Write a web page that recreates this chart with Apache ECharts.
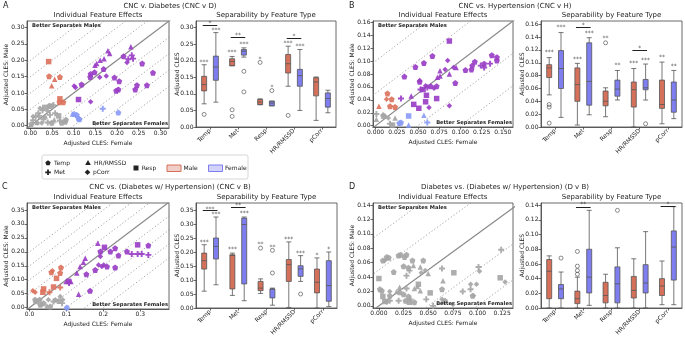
<!DOCTYPE html>
<html>
<head>
<meta charset="utf-8">
<script src="https://cdn.jsdelivr.net/npm/echarts@6/dist/echarts.min.js"></script>
<style>
  html, body { margin: 0; padding: 0; background: #fff; }
  #chart { width: 685px; height: 339px; }
</style>
</head>
<body>
<div id="chart"></div>
<script>
const features = ['Temp', 'Met', 'Resp', 'HR/RMSSD', 'pCorr'];

// scatter points: [CLES female, CLES male, group]  p = both sig, r = male only, b = female only, g = n.s.
const aTemp = [[0.215,0.212,'p'],[0.169,0.173,'p'],[0.148,0.163,'p'],[0.139,0.158,'p'],[0.118,0.126,'p'],[0.194,0.147,'p'],[0.205,0.136,'p'],[0.203,0.111,'p'],[0.198,0.107,'p'],[0.258,0.190,'p'],[0.246,0.124,'p'],[0.269,0.124,'p'],[0.242,0.111,'p'],[0.283,0.162,'p'],[0.138,0.149,'p'],
  [0.043,0.151,'r'],[0.068,0.149,'r'],[0.067,0.072,'r'],[0.076,0.072,'r'],
  [0.101,0.036,'b'],[0.107,0.033,'b'],[0.111,0.022,'b'],[0.113,0.020,'b'],[0.203,0.040,'b'],
  [0.002,0.005,'g'],[0.043,0.060,'g'],[0.049,0.009,'g'],[0.072,0.009,'g'],[0.080,0.012,'g'],[0.082,0.018,'g']];
const aMet = [[0.234,0.215,'p'],[0.237,0.205,'p'],[0.226,0.203,'p'],[0.167,0.052,'b'],
  [0.006,0.017,'g'],[0.012,0.027,'g'],[0.018,0.038,'g'],[0.028,0.047,'g'],[0.053,0.063,'g'],[0.045,0.033,'g'],[0.057,0.038,'g'],[0.068,0.016,'g'],[0.030,0.020,'g'],[0.040,0.010,'g'],[0.020,0.030,'g']];
const aResp = [[0.111,0.080,'p'],[0.042,0.196,'r'],[0.068,0.082,'r'],[0.033,0.056,'g'],[0.048,0.060,'g'],[0.065,0.030,'g']];
const aHR = [[0.232,0.241,'p'],[0.179,0.229,'p'],[0.183,0.221,'p'],[0.170,0.205,'p'],[0.161,0.200,'p'],[0.149,0.185,'p'],[0.153,0.190,'p'],
  [0.056,0.142,'r'],[0.049,0.122,'r'],[0.097,0.036,'b'],[0.034,0.030,'g'],[0.055,0.018,'g'],[0.015,0.010,'g']];
const aPcorr = [[0.223,0.193,'p'],[0.101,0.121,'p'],[0.104,0.117,'p'],[0.139,0.073,'p'],[0.160,0.148,'p'],[0.175,0.152,'p'],
  [0.022,0.053,'g'],[0.016,0.009,'g'],[0.026,0.008,'g'],[0.006,0.028,'g'],[0.040,0.045,'g']];

const bTemp = [[0.014,0.050,'r'],[0.019,0.041,'r'],[0.017,0.030,'r'],[0.023,0.029,'r'],[0.028,0.004,'b'],[0.030,0.005,'b'],
  [0.057,0.097,'p'],[0.067,0.108,'p'],[0.047,0.091,'p'],[0.034,0.076,'p'],[0.117,0.099,'p'],[0.114,0.093,'p'],[0.113,0.087,'p'],[0.128,0.096,'p'],[0.143,0.101,'p'],[0.143,0.106,'p'],[0.137,0.109,'p'],[0.106,0.086,'p'],[0.094,0.066,'p'],[0.065,0.061,'p'],[0.072,0.061,'p'],[0.052,0.068,'p'],
  [0.009,0.015,'g']];
const bMet = [[0.124,0.093,'p'],[0.128,0.090,'p'],[0.135,0.096,'p'],[0.053,0.056,'p'],[0.061,0.059,'p'],[0.030,0.042,'p'],[0.061,0.005,'b'],[0.001,0.018,'g'],[0.017,0.003,'g']];
const bResp = [[0.087,0.131,'p'],[0.060,0.047,'p'],[0.072,0.042,'p'],[0.059,0.037,'p'],[0.045,0.033,'p'],[0.051,0.027,'p'],[0.056,0.056,'p'],[0.039,0.015,'b'],[0.020,0.001,'g']];
const bHR = [[0.004,0.030,'r'],[0.076,0.085,'p'],[0.076,0.077,'p'],[0.073,0.075,'p'],[0.087,0.080,'p'],[0.095,0.090,'p'],[0.042,0.046,'p'],[0.057,0.016,'b'],[0.039,0.001,'b'],[0.001,0.010,'g'],[0.023,0.012,'g']];
const bPcorr = [[0.013,0.041,'r'],[0.085,0.101,'p'],[0.092,0.090,'p'],[0.082,0.087,'p'],[0.052,0.070,'p'],[0.059,0.062,'p'],[0.063,0.028,'p'],[0.087,0.031,'p'],[0.069,0.058,'p'],[0.011,0.015,'g'],[0.015,0.012,'g'],[0.009,0.017,'g']];

const cTemp = [[0.059,0.127,'r'],[0.085,0.144,'r'],[0.083,0.124,'r'],[0.015,0.028,'g'],[0.027,0.028,'g'],[0.029,0.010,'g'],[0.038,0.016,'g'],[0.079,0.024,'g'],[0.056,0.004,'g'],[0.101,0.000,'b'],
  [0.192,0.201,'p'],[0.232,0.213,'p'],[0.241,0.187,'p'],[0.219,0.201,'p'],[0.178,0.135,'p'],[0.210,0.147,'p'],[0.232,0.144,'p'],[0.154,0.120,'p'],[0.164,0.060,'p'],[0.264,0.201,'p'],[0.322,0.223,'p']];
const cMet = [[0.277,0.192,'p'],[0.293,0.192,'p'],[0.304,0.192,'p'],[0.322,0.189,'p'],[0.107,0.088,'p'],[0.083,0.072,'r'],[0.054,0.055,'r'],[0.065,0.022,'g'],[0.088,0.016,'g']];
const cResp = [[0.073,0.105,'r'],[0.038,0.067,'r'],[0.036,0.055,'r'],[0.065,0.074,'r'],[0.203,0.216,'p'],[0.293,0.225,'p'],[0.106,0.094,'p'],[0.018,0.022,'g']];
const cHR = [[0.185,0.231,'p'],[0.151,0.177,'p'],[0.146,0.163,'p'],[0.137,0.147,'p'],[0.128,0.124,'p'],[0.099,0.094,'p'],[0.133,0.048,'p'],[0.112,0.094,'p'],[0.047,0.007,'g']];
const cPcorr = [[0.009,0.060,'r'],[0.015,0.055,'r'],[0.062,0.132,'r'],[0.192,0.183,'p'],[0.196,0.147,'p'],[0.187,0.153,'p'],[0.201,0.153,'p'],
  [0.051,0.028,'g'],[0.083,0.040,'g'],[0.090,0.028,'g'],[0.033,0.010,'g'],[0.070,0.028,'g']];

const dTemp = [[0.004,0.063,'g'],[0.008,0.068,'g'],[0.010,0.067,'g'],[0.020,0.070,'g'],[0.022,0.071,'g'],[0.026,0.068,'g'],[0.028,0.071,'g'],[0.034,0.063,'g'],[0.045,0.063,'g'],[0.025,0.055,'g'],[0.030,0.053,'g'],[0.015,0.047,'g'],
  [0.001,0.023,'g'],[0.021,0.019,'g'],[0.025,0.016,'g'],[0.030,0.013,'g'],[0.027,0.007,'g'],[0.036,0.005,'g'],[0.064,0.023,'g'],[0.067,0.007,'g'],[0.095,0.014,'g'],[0.011,0.014,'g'],[0.003,0.021,'g']];
const dMet = [[0.028,0.042,'g'],[0.031,0.049,'g'],[0.028,0.024,'g'],[0.020,0.007,'g'],[0.011,0.007,'g'],[0.032,0.009,'g'],[0.048,0.009,'g'],[0.064,0.052,'g'],[0.085,0.020,'g'],[0.093,0.023,'g'],[0.101,0.054,'g'],[0.124,0.078,'g'],[0.055,0.000,'g']];
const dResp = [[0.000,0.038,'g'],[0.006,0.006,'g'],[0.004,0.013,'g'],[0.031,0.005,'g'],[0.052,0.018,'g'],[0.040,0.030,'g'],[0.076,0.046,'g'],[0.123,0.039,'g']];
const dHR = [[0.035,0.056,'g'],[0.042,0.054,'g'],[0.050,0.045,'g'],[0.018,0.020,'g'],[0.021,0.026,'g'],[0.036,0.024,'g'],[0.039,0.027,'g'],[0.042,0.021,'g'],[0.065,0.035,'g']];
const dPcorr = [[0.047,0.049,'g'],[0.043,0.046,'g'],[0.011,0.020,'g'],[0.008,0.005,'g'],[0.064,0.009,'g'],[0.065,0.005,'g'],[0.075,0.002,'g'],[0.093,0.030,'g'],[0.099,0.030,'g'],[0.102,0.048,'g'],[0.096,0.014,'g'],[0.128,0.033,'g'],[0.006,0.063,'g']];

// box plots: [min, Q1, median, Q3, max] per feature
const aBoxMale = [[0.070,0.109,0.128,0.153,0.188],[0.185,0.185,0.198,0.206,0.213],[0.067,0.068,0.0755,0.083,0.085],[0.123,0.163,0.191,0.219,0.244],[0.020,0.094,0.136,0.149,0.151]];
const aBoxFemale = [[0.075,0.141,0.181,0.214,0.285],[0.211,0.217,0.229,0.234,0.239],[0.064,0.064,0.072,0.078,0.078],[0.050,0.123,0.155,0.174,0.234],[0.043,0.060,0.086,0.103,0.111]];
const bBoxMale = [[0.050,0.077,0.092,0.097,0.108],[0.003,0.040,0.066,0.092,0.099],[0.016,0.033,0.040,0.056,0.061],[0.000,0.031,0.058,0.070,0.091],[0.005,0.029,0.035,0.073,0.101]];
const bBoxFemale = [[0.015,0.060,0.091,0.119,0.147],[0.019,0.034,0.071,0.131,0.139],[0.042,0.048,0.059,0.073,0.088],[0.042,0.058,0.061,0.074,0.098],[0.013,0.023,0.042,0.070,0.088]];
const cBoxMale = [[0.060,0.139,0.169,0.196,0.226],[0.045,0.068,0.188,0.190,0.196],[0.052,0.062,0.071,0.095,0.104],[0.002,0.095,0.155,0.173,0.236],[0.000,0.054,0.092,0.139,0.179]];
const cBoxFemale = [[0.083,0.175,0.220,0.250,0.325],[0.026,0.086,0.298,0.321,0.325],[0.010,0.036,0.068,0.068,0.071],[0.095,0.113,0.140,0.151,0.187],[0.005,0.024,0.080,0.169,0.200]];
const dBoxMale = [[0.000,0.0127,0.050,0.066,0.071],[0.000,0.006,0.0127,0.023,0.042],[0.000,0.007,0.017,0.035,0.046],[0.000,0.0136,0.024,0.043,0.067],[0.0045,0.017,0.030,0.040,0.064]];
const dBoxFemale = [[0.000,0.0127,0.026,0.032,0.049],[0.0036,0.0205,0.042,0.080,0.133],[0.000,0.007,0.033,0.056,0.082],[0.000,0.0205,0.034,0.059,0.104],[0.0045,0.038,0.083,0.105,0.138]];

// outliers: [feature index, side (-1 male / 1 female), value]
const aOutliers = [[0,-1,0.038],[1,-1,0.052],[1,-1,0.032],[1,1,0.168],[1,1,0.106],[2,-1,0.195],[2,1,0.110],[3,-1,0.035]];
const bOutliers = [[0,-1,0.035],[0,-1,0.031],[0,-1,0.006],[2,-1,0.131],[3,1,0.005]];
const cOutliers = [[2,-1,0.214],[2,1,0.206],[2,1,0.125],[3,1,0.050]];
const dOutliers = [[0,1,0.068],[1,-1,0.077],[1,-1,0.057],[1,-1,0.051],[1,-1,0.046],[2,1,0.133]];

// significance stars: [feature index, side (0 = between), value, text]
const aStars = [[0,-1,0.200,'***'],[0,1,0.297,'***'],[1,-1,0.230,'***'],[1,1,0.254,'***'],[2,-1,0.210,'*'],[2,1,0.125,'*'],[3,-1,0.257,'***'],[3,1,0.247,'***'],[0,0,0.316,'*'],[1,0,0.280,'**'],[3,0,0.279,'*']];
const bStars = [[0,-1,0.118,'***'],[0,1,0.157,'***'],[1,-1,0.108,'***'],[1,1,0.148,'***'],[2,-1,0.140,'**'],[2,1,0.098,'**'],[3,-1,0.101,'***'],[3,1,0.106,'***'],[4,-1,0.110,'**'],[4,1,0.097,'**'],[1,0,0.161,'*'],[3,0,0.125,'*']];
const cStars = [[0,-1,0.240,'***'],[0,1,0.339,'***'],[1,-1,0.214,'***'],[1,1,0.342,'***'],[2,-1,0.232,'**'],[2,1,0.223,'**'],[3,-1,0.250,'***'],[3,1,0.202,'***'],[4,-1,0.194,'*'],[4,1,0.214,'*'],[0,0,0.359,'***'],[1,0,0.370,'**']];
const dStars = [[1,0,0.1425,'**'],[4,0,0.1425,'*']];
// male vs female comparison bars: [feature index, value]
const aBars = [[0,0.307],[1,0.270],[3,0.269]];
const bBars = [[1,0.156],[3,0.120]];
const cBars = [[0,0.350],[1,0.360]];
const dBars = [[1,0.137],[4,0.139]];

// tick values
const ticks005 = [0,0.05,0.10,0.15,0.20,0.25,0.30];
const ticks005c = [0,0.05,0.10,0.15,0.20,0.25,0.30,0.35];
const ticks002 = [0,0.02,0.04,0.06,0.08,0.10,0.12,0.14,0.16];
const ticks002d = [0,0.02,0.04,0.06,0.08,0.10,0.12,0.14];
const ticks0025 = [0,0.025,0.05,0.075,0.10,0.125,0.15];
const ticks0025d = [0,0.025,0.05,0.075,0.10,0.125];
const ticks01 = [0,0.1,0.2,0.3];

const COL = {p: '#9a3fc5', r: '#dc735d', b: '#8a9bf6', g: '#a6a6a6'};
const MALE = '#d5705b', FEMALE = '#7e7ef1';
const TXT = '#222', AX = '#444';
const FONT = 'DejaVu Sans';
const OFF = 0.21;

const SHAPES = {
  pent: [[0,-1],[0.951,-0.309],[0.588,0.809],[-0.588,0.809],[-0.951,-0.309]],
  plus: [[-0.32,-1],[0.32,-1],[0.32,-0.32],[1,-0.32],[1,0.32],[0.32,0.32],[0.32,1],[-0.32,1],[-0.32,0.32],[-1,0.32],[-1,-0.32],[-0.32,-0.32]],
  sq: [[-1,-1],[1,-1],[1,1],[-1,1]],
  tri: [[0,-1],[1,0.75],[-1,0.75]],
  dia: [[0,-1],[1,0],[0,1],[-1,0]]
};
const toPath = pts => 'path://' + pts.map((p, i) => (i ? 'L' : 'M') + (p[0] * 10).toFixed(2) + ',' + (p[1] * 10).toFixed(2)).join('') + 'Z';
const marks = [['pent', 6], ['plus', 6], ['sq', 5.5], ['tri', 5.5], ['dia', 5.5]];

const panels = [
  {letter: 'A', lx: 3, title: 'CNC v. Diabetes (CNC v D)', tx: 170, ty: 6,
   sg: {left: 27, top: 21, width: 142, height: 107}, bg: {left: 196, top: 21, width: 140, height: 106},
   pts: [aTemp, aMet, aResp, aHR, aPcorr], sx: [-0.008, 0.32], sy: [-0.007, 0.32],
   sxt: ticks005, sxd: 2, syt: ticks005, syd: 2, diag: [0.05, 0.1, 0.15, 0.2],
   bmax: 0.32, byt: ticks005, male: aBoxMale, female: aBoxFemale, out: aOutliers, stars: aStars, bars: aBars},
  {letter: 'B', lx: 349, title: 'CNC vs. Hypertension (CNC v H)', tx: 515, ty: 6,
   sg: {left: 373, top: 21, width: 140, height: 106}, bg: {left: 541, top: 21, width: 141, height: 106},
   pts: [bTemp, bMet, bResp, bHR, bPcorr], sx: [-0.003, 0.162], sy: [-0.002, 0.162],
   sxt: ticks0025, sxd: 3, syt: ticks002, syd: 2, diag: [0.05, 0.1],
   bmax: 0.165, byt: ticks002, male: bBoxMale, female: bBoxFemale, out: bOutliers, stars: bStars, bars: bBars},
  {letter: 'C', lx: 2, title: 'CNC vs. (Diabetes w/ Hypertension) (CNC v B)', tx: 170, ty: 187,
   sg: {left: 27, top: 203, width: 142, height: 106}, bg: {left: 196, top: 203, width: 141, height: 105},
   pts: [cTemp, cMet, cResp, cHR, cPcorr], sx: [-0.007, 0.378], sy: [-0.005, 0.375],
   sxt: ticks01, sxd: 1, syt: ticks005c, syd: 2, diag: [0.05, 0.1, 0.15, 0.2],
   bmax: 0.375, byt: ticks005c, male: cBoxMale, female: cBoxFemale, out: cOutliers, stars: cStars, bars: cBars},
  {letter: 'D', lx: 349, title: 'Diabetes vs. (Diabetes w/ Hypertension) (D v B)', tx: 505, ty: 187,
   sg: {left: 373, top: 203, width: 140, height: 105}, bg: {left: 541, top: 203, width: 141, height: 105},
   pts: [dTemp, dMet, dResp, dHR, dPcorr], sx: [-0.006, 0.136], sy: [-0.003, 0.143],
   sxt: ticks0025d, sxd: 3, syt: ticks002d, syd: 2, diag: [0.05, 0.1],
   bmax: 0.143, byt: ticks002d, male: dBoxMale, female: dBoxFemale, out: dOutliers, stars: dStars, bars: dBars}
];

function valAxis(gi, range, ticks, dec, name, gap) {
  return {
    type: 'value', gridIndex: gi, min: range[0], max: range[1],
    splitLine: {show: false},
    axisLine: {show: true, onZero: false, lineStyle: {color: AX, width: 0.8}},
    axisTick: {show: true, customValues: ticks, length: 2.5, lineStyle: {color: AX, width: 0.8}},
    axisLabel: {customValues: ticks, formatter: v => Number(v).toFixed(dec), fontSize: 6, color: TXT, margin: 2.5, fontFamily: FONT},
    name: name, nameLocation: 'middle', nameGap: gap, nameMoveOverlap: false,
    nameTextStyle: {fontSize: 6, color: TXT, fontFamily: FONT}
  };
}
function text(x, y, s, size, align, bold) {
  return {type: 'text', x: x, y: y, z: 10, silent: true,
    style: {text: s, font: (bold ? 'bold ' : '') + size + 'px "' + FONT + '"', fill: TXT, textAlign: align || 'center', textVerticalAlign: 'middle'}};
}
function poly(cx, cy, r, shape) {
  return {type: 'polygon', z: 10, silent: true, shape: {points: SHAPES[shape].map(p => [cx + p[0] * r, cy + p[1] * r])}, style: {fill: TXT}};
}

const option = {animation: false, textStyle: {fontFamily: FONT}, grid: [], xAxis: [], yAxis: [], series: [], graphic: []};
const gridBase = {show: true, borderColor: AX, borderWidth: 0.8, backgroundColor: 'transparent', containLabel: false, outerBoundsMode: 'none'};

panels.forEach((P, i) => {
  const sgi = 2 * i, bgi = 2 * i + 1;
  option.grid.push(Object.assign({}, gridBase, P.sg));
  option.grid.push(Object.assign({}, gridBase, P.bg));

  option.xAxis.push(valAxis(sgi, P.sx, P.sxt, P.sxd, 'Adjusted CLES: Female', 12));
  option.xAxis.push({
    type: 'category', gridIndex: bgi, data: features,
    axisLine: {show: true, lineStyle: {color: AX, width: 0.8}},
    axisTick: {show: true, alignWithLabel: true, length: 2.5, lineStyle: {color: AX, width: 0.8}},
    axisLabel: {rotate: 45, interval: 0, fontSize: 6, color: TXT, margin: 3, fontFamily: FONT}
  });
  option.xAxis.push({type: 'value', gridIndex: bgi, min: -0.5, max: 4.5, show: false});
  option.yAxis.push(valAxis(sgi, P.sy, P.syt, P.syd, 'Adjusted CLES: Male', 18));
  option.yAxis.push(valAxis(bgi, [0, P.bmax], P.byt, 2, 'Adjusted CLES', 16));

  // diagonal reference lines
  const lo = P.sx[0] - 0.3, hi = P.sx[1] + 0.3;
  [0].concat(P.diag, P.diag.map(c => -c)).forEach(c => {
    option.series.push({
      type: 'line', xAxisIndex: 3 * i, yAxisIndex: sgi, silent: true, clip: true, z: 1,
      symbol: 'none', data: [[lo, lo + c], [hi, hi + c]],
      lineStyle: c === 0 ? {color: '#888', width: 1.2} : {color: '#999', width: 0.9, type: [1.2, 2.2]}
    });
  });

  // feature scatter
  P.pts.forEach((pts, k) => {
    option.series.push({
      type: 'scatter', name: features[k], xAxisIndex: 3 * i, yAxisIndex: sgi, z: 3, silent: true,
      symbol: toPath(SHAPES[marks[k][0]]), symbolSize: marks[k][1],
      data: pts.map(d => ({value: [d[0], d[1]], itemStyle: {color: COL[d[2]], opacity: 0.92}}))
    });
  });

  // box plots
  [[P.male, MALE], [P.female, FEMALE]].forEach(([data, c], s) => {
    option.series.push({
      type: 'boxplot', name: s ? 'Female' : 'Male', xAxisIndex: 3 * i + 1, yAxisIndex: bgi, silent: true, z: 2,
      boxWidth: [5, 5], data: data,
      itemStyle: {color: c, borderColor: '#555', borderWidth: 0.8}
    });
  });
  option.series.push({
    type: 'scatter', xAxisIndex: 3 * i + 2, yAxisIndex: bgi, silent: true, z: 3,
    symbol: 'circle', symbolSize: 4,
    itemStyle: {color: 'rgba(255,255,255,0)', borderColor: '#333', borderWidth: 0.7},
    data: P.out.map(o => [o[0] + o[1] * OFF, o[2]])
  });
  option.series.push({
    type: 'scatter', xAxisIndex: 3 * i + 2, yAxisIndex: bgi, silent: true, z: 4,
    symbolSize: 1, itemStyle: {color: 'rgba(0,0,0,0)'},
    label: {show: true, position: 'inside', formatter: p => p.value[2], fontSize: 6, color: TXT, offset: [0, 1.5], fontFamily: FONT},
    data: P.stars.map(s => [s[0] + s[1] * OFF, s[2], s[3]]),
    markLine: {
      silent: true, symbol: ['none', 'none'], label: {show: false},
      lineStyle: {color: '#222', width: 1, type: 'solid'},
      data: P.bars.map(b => [{coord: [b[0] - 0.26, b[1]]}, {coord: [b[0] + 0.26, b[1]]}])
    }
  });

  // texts
  const sgc = P.sg.left + P.sg.width / 2, bgc = P.bg.left + P.bg.width / 2;
  option.graphic.push(text(P.lx, P.ty - 0.5, P.letter, 8, 'left'));
  option.graphic.push(text(P.tx, P.ty, P.title, 7));
  option.graphic.push(text(sgc, P.sg.top - 6, 'Individual Feature Effects', 7));
  option.graphic.push(text(bgc, P.bg.top - 6, 'Separability by Feature Type', 7));
  option.graphic.push(text(P.sg.left + 5, P.sg.top + 5, 'Better Separates Males', 5.2, 'left', true));
  option.graphic.push(text(P.sg.left + P.sg.width - 1, P.sg.top + P.sg.height - 4, 'Better Separates Females', 5.2, 'right', true));
});

// legend box
option.graphic.push({type: 'rect', z: 9, silent: true, shape: {x: 42, y: 155, width: 206, height: 24, r: 2}, style: {fill: '#fff', stroke: '#ccc', lineWidth: 0.8}});
option.graphic.push(poly(48, 163, 2.8, 'pent'), text(54, 163, 'Temp', 6, 'left'));
option.graphic.push(poly(48, 172.3, 2.8, 'plus'), text(54, 172.3, 'Met', 6, 'left'));
option.graphic.push(poly(88, 162.8, 2.8, 'tri'), text(94, 163, 'HR/RMSSD', 6, 'left'));
option.graphic.push(poly(87.5, 172.3, 2.8, 'dia'), text(93, 172.3, 'pCorr', 6, 'left'));
option.graphic.push(poly(136, 168, 2.5, 'sq'), text(141.7, 168, 'Resp', 6, 'left'));
option.graphic.push({type: 'rect', z: 10, silent: true, shape: {x: 167, y: 165, width: 14, height: 6.5}, style: {fill: 'rgba(213,112,91,0.35)', stroke: MALE, lineWidth: 1}});
option.graphic.push(text(183.5, 168.3, 'Male', 6, 'left'));
option.graphic.push({type: 'rect', z: 10, silent: true, shape: {x: 208.5, y: 165, width: 14, height: 6.5}, style: {fill: 'rgba(126,126,241,0.35)', stroke: FEMALE, lineWidth: 1}});
option.graphic.push(text(225, 168.3, 'Female', 6, 'left'));

const chart = echarts.init(document.getElementById('chart'), null, {renderer: 'canvas'});
chart.setOption(option);
</script>
</body>
</html>
